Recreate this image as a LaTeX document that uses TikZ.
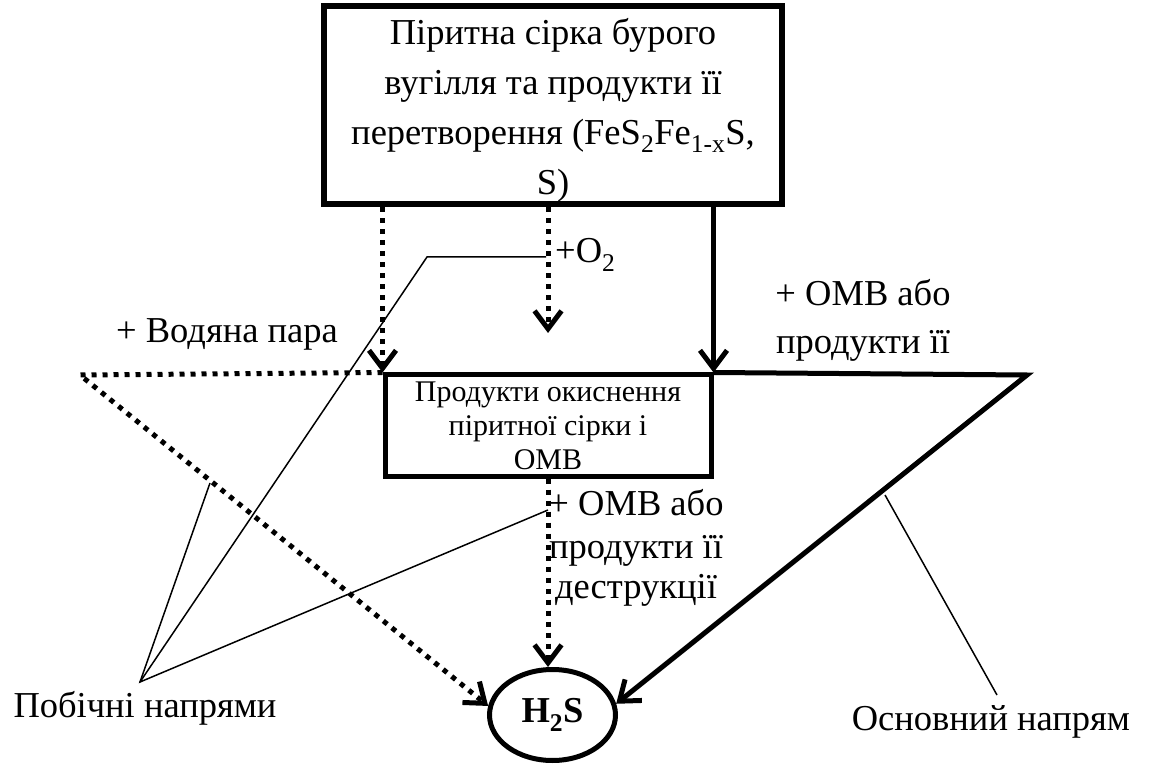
\documentclass[tikz,border=0pt]{standalone}
\usepackage{fontspec}
\setmainfont{Liberation Serif}
\usetikzlibrary{shapes.geometric,arrows.meta}

\begin{document}
\begin{tikzpicture}[x=1pt,y=-1pt,
  every node/.style={font=\fontsize{36.5}{48}\selectfont,inner sep=0pt},
  tip/.style={-{Straight Barb[length=18pt,width=27pt]}},
  dotline/.style={line width=5pt,dash pattern=on 5pt off 6pt},
  thickline/.style={line width=5pt},
  leader/.style={line width=1.5pt}]
  \tikzstyle{bigbox} = [draw,line width=6pt,minimum width=458pt,minimum height=198pt,align=center,font=\fontsize{36.5}{50}\selectfont]
  \tikzstyle{smallbox} = [draw,line width=5pt,minimum width=326pt,minimum height=101pt,align=center,font=\fontsize{30}{34}\selectfont]
  \tikzstyle{oval} = [draw,ellipse,line width=5pt,minimum width=126pt,minimum height=91pt]
  \tikzstyle{word} = [align=center]
  \useasboundingbox (0,0) rectangle (1152,767);
  \node (src) [bigbox] at (553,105.5) {\rule{0pt}{36pt}Піритна сірка бурого\\вугілля та продукти її\\перетворення (FeS\textsubscript{2}Fe\textsubscript{1-x}S,\\S)};
  \node (prod) [smallbox] at (548,425.5) {Продукти окиснення\\піритної сірки і\\ОМВ};
  \node (h2s) [oval] at (552.5,715) {\textbf{H\textsubscript{2}S}};
  \coordinate (o2tip) at (548,333);
  \coordinate (wl) at (80,375);
  \coordinate (wr) at (1027,375);
  \draw[dotline,tip] (src.south -| prod.north west) -- (prod.north west);
  \draw[dotline,tip] (src.south -| prod.north) -- (o2tip);
  \draw[thickline,tip] (src.south -| prod.north east) -- (prod.north east);
  \draw[dotline,tip] (prod.north west) -- (wl) -- (h2s.172);
  \draw[thickline,tip] (prod.north east) -- (wr) -- (h2s.10);
  \draw[dotline,tip] (prod.south) -- (prod.south |- h2s.north);
  \node (o2) [anchor=base west] at (555,263) {+O\textsubscript{2}};
  \node (steam) [anchor=base] at (227,343) {+ Водяна пара};
  \node (omv1) [word,anchor=north] at (863,279) {+ ОМВ або\\продукти її};
  \node (omv2) [word,anchor=north] at (636,489) {+ ОМВ або\\[-5pt]продукти її\\[-8pt]деструкції};
  \node (side) [anchor=base] at (145,717) {Побічні напрями};
  \node (main) [anchor=base] at (991,730) {Основний напрям};
  \coordinate (pb) at (140,682);
  \coordinate (d1) at (210,483);
  \coordinate (d2) at (548,510);
  \coordinate (o1) at (427,257);
  \coordinate (o3) at (546,257);
  \coordinate (m1) at (885,495);
  \coordinate (m2) at (997,695);
  \draw[leader] (d1) -- (pb) -- (d2);
  \draw[leader] (pb) -- (o1) -- (o3);
  \draw[leader] (m1) -- (m2);
\end{tikzpicture}
\end{document}
